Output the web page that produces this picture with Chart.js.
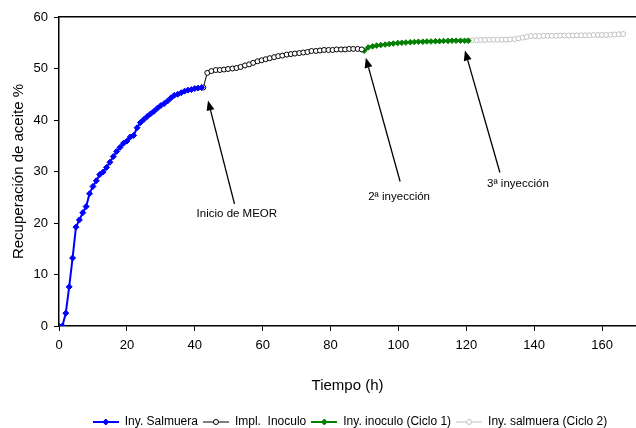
<!DOCTYPE html>
<html>
<head>
<meta charset="utf-8">
<script src="https://cdn.jsdelivr.net/npm/chart.js@4.4.0/dist/chart.umd.min.js"></script>
<style>
  html, body { margin: 0; padding: 0; background: #fff; }
</style>
</head>
<body>
<canvas id="myChart" width="636" height="428"></canvas>
<script>
// --- datos ---
const salmueraX = [0,1,2,3,4,5,6,7,8,9,10,11,12,13,14,15,16,17,18,19,20,21,22,23,24,25,26,27,28,29,30,31,32,33,34,35,36,37,38,39,40,41,42]
const salmueraY = [0,0,2.5,7.6,13.2,19.2,20.6,22.0,23.2,25.7,27.1,28.2,29.4,29.9,30.8,31.8,32.9,33.9,34.7,35.5,35.9,36.7,37.0,38.5,39.5,40.1,40.7,41.2,41.7,42.3,42.8,43.2,43.7,44.3,44.8,45.0,45.3,45.6,45.8,45.9,46.1,46.2,46.3]

const inoculoX = [42.5,43.7,44.9,46.2,47.4,48.6,49.8,51.1,52.3,53.5,54.8,56.0,57.2,58.5,59.7,60.9,62.1,63.4,64.6,65.8,67.1,68.3,69.5,70.8,72.0,73.2,74.4,75.7,76.9,78.1,79.4,80.6,81.8,83.1,84.3,85.5,86.7,88.0,89.2]
const inoculoY = [46.3,49.15,49.5,49.7,49.7,49.8,49.9,50.0,50.1,50.3,50.6,50.8,51.1,51.4,51.6,51.8,52.0,52.2,52.4,52.5,52.7,52.8,52.9,53.0,53.1,53.2,53.4,53.4,53.5,53.6,53.6,53.6,53.7,53.7,53.7,53.8,53.8,53.8,53.7]

const ciclo1X = [89.9,91.1,92.4,93.6,94.8,96.1,97.3,98.5,99.8,101.0,102.2,103.5,104.7,105.9,107.2,108.4,109.6,110.9,112.1,113.3,114.6,115.8,117.0,118.3,119.5,120.6]
const ciclo1Y = [53.45,54.1,54.3,54.45,54.55,54.65,54.75,54.85,54.95,55.0,55.05,55.1,55.15,55.2,55.2,55.25,55.25,55.3,55.3,55.35,55.35,55.4,55.4,55.4,55.4,55.4]

const ciclo2X = [120.6,121.8,123.1,124.3,125.5,126.8,128.0,129.2,130.5,131.7,132.9,134.2,135.4,136.6,137.8,139.1,140.3,141.5,142.8,144.0,145.2,146.5,147.7,148.9,150.2,151.4,152.6,153.9,155.1,156.3,157.5,158.8,160.0,161.2,162.5,163.7,164.9,166.2]
const ciclo2Y = [55.4,55.5,55.5,55.55,55.55,55.6,55.6,55.6,55.6,55.6,55.65,55.7,55.85,56.0,56.15,56.3,56.3,56.3,56.35,56.35,56.35,56.35,56.4,56.4,56.4,56.4,56.45,56.45,56.45,56.45,56.5,56.5,56.5,56.5,56.55,56.6,56.65,56.7]

const seriesNames = ['Iny. Salmuera', 'Impl.  Inoculo', 'Iny. inoculo (Ciclo 1)', 'Iny. salmuera (Ciclo 2)']
const xTicks = [0, 20, 40, 60, 80, 100, 120, 140, 160]

// flechas y textos (coordenadas en unidades del gráfico)
const notaTextos = ['Inicio de MEOR', '2ª inyección', '3ª inyección']
const notaTextoX = [52.4, 100.2, 135.2]
const notaTextoY = [21.8, 25.1, 27.7]
const flechaDesdeX = [51.7, 100.5, 129.9]
const flechaDesdeY = [23.7, 28.05, 29.8]
const flechaHastaX = [43.9, 90.4, 119.6]
const flechaHastaY = [43.8, 52.1, 53.5]

const FONT = '"Liberation Sans", Arial, sans-serif'

function pts(xs, ys) {
  return xs.map((x, i) => ({ x: x, y: ys[i] }))
}

// icono de leyenda: línea + marcador
function legendIcon(color, lineW, shape, fill) {
  const c = document.createElement('canvas')
  c.width = 26
  c.height = 10
  const g = c.getContext('2d')
  g.strokeStyle = color
  g.lineWidth = lineW
  g.beginPath()
  g.moveTo(0, 5)
  g.lineTo(26, 5)
  g.stroke()
  g.lineWidth = 1
  g.fillStyle = fill
  g.beginPath()
  if (shape === 'rectRot') {
    g.moveTo(13, 2); g.lineTo(16, 5); g.lineTo(13, 8); g.lineTo(10, 5); g.closePath()
  } else {
    g.arc(13, 5, 2.5, 0, Math.PI * 2)
  }
  g.fill()
  g.stroke()
  return c
}

const icons = [
  legendIcon('#0000FF', 2, 'rectRot', '#0000FF'),
  legendIcon('#000000', 1, 'circle', '#FFFFFF'),
  legendIcon('#008000', 2, 'rectRot', '#008000'),
  legendIcon('#C0C0C0', 1, 'circle', '#FFFFFF')
]

const notas = {
  id: 'notas',
  afterDatasetsDraw(chart) {
    const { ctx, scales } = chart
    const sx = scales.x, sy = scales.y
    ctx.save()
    ctx.strokeStyle = '#000'
    ctx.fillStyle = '#000'
    ctx.lineWidth = 1.3
    for (let i = 0; i < notaTextos.length; i++) {
      const x0 = sx.getPixelForValue(flechaDesdeX[i]), y0 = sy.getPixelForValue(flechaDesdeY[i])
      const x1 = sx.getPixelForValue(flechaHastaX[i]), y1 = sy.getPixelForValue(flechaHastaY[i])
      const a = Math.atan2(y1 - y0, x1 - x0)
      const len = 10, w = 4
      const bx = x1 - len * Math.cos(a), by = y1 - len * Math.sin(a)
      ctx.beginPath()
      ctx.moveTo(x0, y0)
      ctx.lineTo(bx, by)
      ctx.stroke()
      ctx.beginPath()
      ctx.moveTo(x1, y1)
      ctx.lineTo(bx + w * Math.sin(a), by - w * Math.cos(a))
      ctx.lineTo(bx - w * Math.sin(a), by + w * Math.cos(a))
      ctx.closePath()
      ctx.fill()
      ctx.font = '11.5px ' + FONT
      ctx.textAlign = 'center'
      ctx.textBaseline = 'middle'
      ctx.fillText(notaTextos[i], sx.getPixelForValue(notaTextoX[i]), sy.getPixelForValue(notaTextoY[i]))
    }
    ctx.restore()
  }
}

// mueve la leyenda a su sitio
const moverLeyenda = {
  id: 'moverLeyenda',
  afterLayout(chart) {
    const lg = chart.legend
    lg.left += 32; lg.right += 32
    lg.top += 10; lg.bottom += 10
  }
}

const data = {
  datasets: [
    {
      label: seriesNames[0],
      data: pts(salmueraX, salmueraY),
      borderColor: '#0000FF',
      backgroundColor: '#0000FF',
      borderWidth: 2,
      pointStyle: 'rectRot',
      pointRadius: 3,
      pointBorderWidth: 1
    },
    {
      label: seriesNames[1],
      data: pts(inoculoX, inoculoY),
      borderColor: '#000000',
      backgroundColor: '#FFFFFF',
      borderWidth: 1,
      pointStyle: 'circle',
      pointRadius: 2.5,
      pointBorderWidth: 1
    },
    {
      label: seriesNames[2],
      data: pts(ciclo1X, ciclo1Y),
      borderColor: '#008000',
      backgroundColor: '#008000',
      borderWidth: 2,
      pointStyle: 'rectRot',
      pointRadius: 2.8,
      pointBorderWidth: 1
    },
    {
      label: seriesNames[3],
      data: pts(ciclo2X, ciclo2Y),
      borderColor: '#C0C0C0',
      backgroundColor: '#FFFFFF',
      borderWidth: 1,
      pointStyle: 'circle',
      pointRadius: 2.5,
      pointBorderWidth: 1
    }
  ]
}

const config = {
  type: 'line',
  data: data,
  plugins: [notas, moverLeyenda],
  options: {
    responsive: false,
    animation: false,
    devicePixelRatio: 1,
    layout: { autoPadding: false, padding: { top: 9, right: 0, left: 0, bottom: 0 } },
    elements: { line: { tension: 0 } },
    scales: {
      x: {
        type: 'linear',
        min: 0,
        max: 170,
        afterBuildTicks: s => { s.ticks = xTicks.map(v => ({ value: v })) },
        afterFit: s => { s.height = 75 },
        ticks: { color: '#000', padding: 7, maxRotation: 0, font: { family: FONT, size: 13 } },
        grid: { drawOnChartArea: false, drawTicks: true, tickLength: 5, tickColor: '#000', tickWidth: 1 },
        border: { color: '#000', width: 1.5 },
        title: { display: true, text: 'Tiempo (h)', color: '#000', font: { family: FONT, size: 15 }, padding: { top: 0, bottom: 6 } }
      },
      xTop: {
        type: 'linear',
        position: 'top',
        min: 0,
        max: 170,
        ticks: { display: false },
        grid: { display: false },
        border: { color: '#000', width: 1.5 }
      },
      y: {
        min: 0,
        max: 60,
        afterFit: s => { s.width = 59 },
        ticks: { stepSize: 10, color: '#000', padding: 6, font: { family: FONT, size: 13 } },
        grid: { drawOnChartArea: false, drawTicks: true, tickLength: 5, tickColor: '#000', tickWidth: 1 },
        border: { color: '#000', width: 1.5 },
        title: { display: true, text: 'Recuperación de aceite %', color: '#000', font: { family: FONT, size: 15 }, padding: { top: 10, bottom: 0 } }
      }
    },
    plugins: {
      legend: {
        position: 'bottom',
        labels: {
          color: '#000',
          font: { family: FONT, size: 12 },
          usePointStyle: true,
          pointStyleWidth: 26,
          padding: 5,
          generateLabels: chart => chart.data.datasets.map((ds, i) => ({
            text: ds.label,
            pointStyle: icons[i],
            fontColor: '#000',
            hidden: false,
            lineWidth: 0,
            datasetIndex: i
          }))
        }
      },
      tooltip: { enabled: false }
    }
  }
}

new Chart(document.querySelector('#myChart'), config)
</script>
</body>
</html>
